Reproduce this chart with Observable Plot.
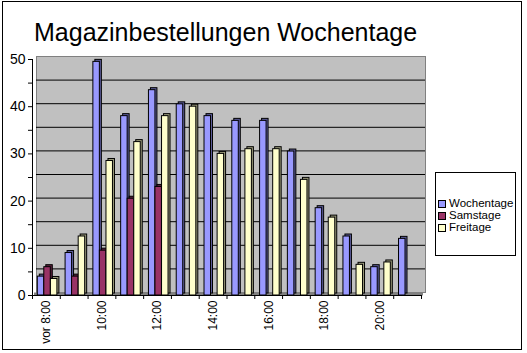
<!DOCTYPE html>
<html>
<head>
<meta charset="utf-8">
<script src="https://cdn.jsdelivr.net/npm/d3@7"></script>
<script src="https://cdn.jsdelivr.net/npm/@observablehq/plot@0.6"></script>
<style>
  html, body { margin: 0; padding: 0; background: #fff; }
  #wrap { position: relative; width: 527px; height: 353px; font-family: "Liberation Sans", Arial, sans-serif; color: #000; overflow: hidden; }
  #wrap svg { position: absolute; left: 0; top: 0; }
  #border { position: absolute; left: 2px; top: 1px; width: 520px; height: 349px; border: 1px solid #000; box-sizing: border-box; pointer-events: none; }
  #title { position: absolute; left: 34px; top: 20px; font-size: 25px; line-height: 25px; white-space: nowrap; }
  #legend { position: absolute; left: 435px; top: 172px; width: 81px; height: 84px; border: 1px solid #000; box-sizing: border-box; background: #fff; }
  .item { position: absolute; left: 2px; font-size: 11.5px; line-height: 11.5px; white-space: nowrap; }
  .sw { display: inline-block; width: 6px; height: 6px; border: 1px solid #000; vertical-align: top; margin-top: 1.5px; margin-right: 3px; }
</style>
</head>
<body>
<div id="wrap">
  <div id="title">Magazinbestellungen Wochentage</div>
  <div id="legend"></div>
  <div id="border"></div>
</div>
<script>
// ---- data ----
const hours = ["vor 8:00", "9:00", "10:00", "11:00", "12:00", "13:00", "14:00", "15:00", "16:00", "17:00", "18:00", "19:00", "20:00", "21:00"];
const seriesNames = ["Wochentage", "Samstage", "Freitage"];
const wochentage = [4, 9, 49.5, 38, 43.5, 40.5, 38, 37, 37, 30.5, 18.5, 12.5, 6, 12];
const samstage   = [6, 4, 9.5, 20.5, 23, 0, 0, 0, 0, 0, 0, 0, 0, 0];
const freitage   = [3.5, 12.5, 28.5, 32.5, 38, 40, 30, 31, 31, 24.5, 16.5, 6.5, 7, 0];
const yTicks = [0, 10, 20, 30, 40, 50];
const yMinorTicks = [5, 15, 25, 35, 45];
const gridValues = [5, 10, 15, 20, 25, 30, 35, 40, 45];

// ---- styles ----
const frontColors = {Wochentage: "#9999ff", Samstage: "#993366", Freitage: "#ffffcc"};
const sideColors  = {Wochentage: "#5c5c99", Samstage: "#5c1f3d", Freitage: "#99997a"};
const insets = {
  Wochentage: {insetLeft: 5.3, insetRight: 16.0},
  Samstage:   {insetLeft: 11.8, insetRight: 9.5},
  Freitage:   {insetLeft: 18.4, insetRight: 2.9}
};

const valuesBySeries = {Wochentage: wochentage, Samstage: samstage, Freitage: freitage};
const rows = [];
for (const s of seriesNames) {
  valuesBySeries[s].forEach((v, i) => rows.push({hour: hours[i], series: s, value: v}));
}

const W = 527, H = 353;
const mL = 32, mR = 106, mT = 59, mB = 58;
const bw = (W - mL - mR) / hours.length;

const marks = [
  Plot.frame({fill: "#c0c0c0", stroke: "#808080", dx: 4, dy: -3}),
  Plot.ruleY(gridValues, {stroke: "#000", dx: 4, dy: -3}),
  Plot.ruleY([0], {stroke: "#808080", strokeWidth: 3, dx: 2, dy: -1.5})
];

for (const s of seriesNames) {
  const data = rows.filter(d => d.series === s && d.value > 0);
  marks.push(
    Plot.barY(data, {x: "hour", y: "value", fill: sideColors[s], stroke: "#000", strokeWidth: 1, dx: 2, dy: -2, ...insets[s]}),
    Plot.barY(data, {x: "hour", y: "value", fill: frontColors[s], stroke: "#000", strokeWidth: 1, ...insets[s]})
  );
}

marks.push(
  Plot.frame({anchor: "left", stroke: "#000"}),
  Plot.ruleY([0], {stroke: "#000"}),
  Plot.axisY({ticks: yTicks, tickSize: 4, tickPadding: 3, fontSize: 14, label: null}),
  Plot.axisY({ticks: yMinorTicks, tickSize: 4, tickFormat: () => "", label: null}),
  Plot.axisX({tickSize: 4, tickFormat: () => "", dx: -bw / 2, label: null}),
  Plot.axisX({ticks: [hours[hours.length - 1]], tickSize: 4, tickFormat: () => "", dx: bw / 2, label: null}),
  Plot.axisX({ticks: hours.filter((d, i) => i % 2 === 0), tickSize: 0, tickPadding: 5, tickRotate: -90, fontSize: 12, label: null})
);

const chart = Plot.plot({
  width: W,
  height: H,
  marginLeft: mL,
  marginRight: mR,
  marginTop: mT,
  marginBottom: mB,
  style: {fontFamily: "Liberation Sans, Arial, sans-serif", fontSize: "12px", color: "#000", background: "transparent", overflow: "visible"},
  x: {type: "band", domain: hours, padding: 0, round: false, label: null},
  y: {domain: [0, 50], label: null},
  marks
});

const wrap = document.getElementById("wrap");
wrap.insertBefore(chart, wrap.firstChild);

// legend
const legend = document.getElementById("legend");
seriesNames.forEach((s, i) => {
  const item = document.createElement("div");
  item.className = "item";
  item.style.top = (25 + i * 12) + "px";
  const sw = document.createElement("span");
  sw.className = "sw";
  sw.style.background = frontColors[s];
  item.appendChild(sw);
  item.appendChild(document.createTextNode(s));
  legend.appendChild(item);
});
</script>
</body>
</html>
